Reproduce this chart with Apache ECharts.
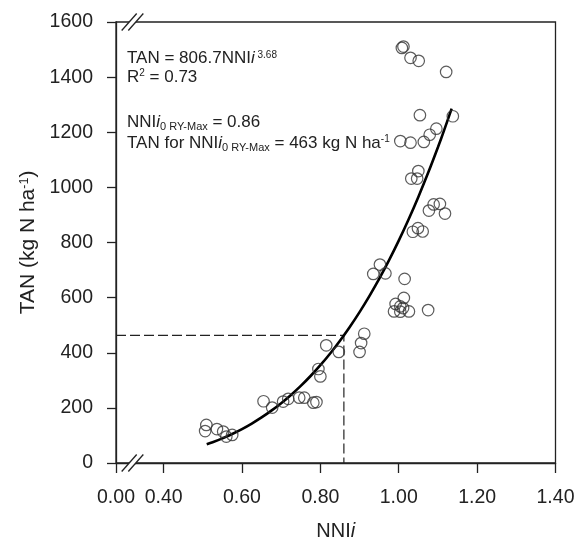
<!DOCTYPE html>
<html><head><meta charset="utf-8">
<script src="https://cdn.jsdelivr.net/npm/echarts@6/dist/echarts.min.js"></script>
<style>html,body{margin:0;padding:0;background:#fff}#c{width:577px;height:540px}</style>
</head><body><div id="c"></div>
<script>
// ---- data ----
const nniObs = [
  0.509, 0.506, 0.536, 0.552, 0.560, 0.575,
  0.655, 0.677, 0.705, 0.718, 0.746, 0.759, 0.782, 0.790, 0.795, 0.800,
  0.815, 0.847, 0.900, 0.904, 0.912,
  0.935, 0.952, 0.966, 1.015,
  1.013, 0.992, 0.988, 1.004, 1.011, 1.026, 1.004, 1.075,
  1.036, 1.049, 1.061, 1.077, 1.089, 1.105, 1.118,
  1.032, 1.047, 1.050,
  1.004, 1.030, 1.064, 1.079, 1.096, 1.054, 1.138,
  1.121, 1.051, 1.030, 1.012, 1.008
];
const tanObs = [
  138, 116, 123, 114, 96, 102,
  224, 201, 223, 233, 237, 237, 219, 221, 341, 314,
  427, 403, 403, 435, 469,
  686, 720, 688, 668,
  599, 577, 550, 568, 562, 550, 549, 555,
  839, 852, 840, 916, 938, 940, 905,
  1032, 1032, 1059,
  1168, 1162, 1165, 1191, 1213, 1262, 1258,
  1419, 1459, 1470, 1511, 1506
];
// fitted curve TAN = 806.7 NNIi^3.68, read at these NNIi values
const fitNNI = [0.51, 0.525, 0.55, 0.575, 0.60, 0.625, 0.65, 0.675, 0.70, 0.725, 0.75, 0.775, 0.80, 0.825,
                0.85, 0.875, 0.90, 0.925, 0.95, 0.975, 1.00, 1.025, 1.05, 1.075, 1.10, 1.115, 1.135];
const fitTAN = [67.7, 75.3, 89.4, 105.3, 123.1, 143.1, 165.3, 189.9, 217.1, 247.0, 279.8, 315.7, 354.9, 397.4,
                443.6, 493.5, 547.4, 605.5, 667.9, 734.9, 806.7, 883.4, 965.4, 1052.7, 1145.6, 1204.1, 1285.5];
const optimumNNI = 0.86;
const optimumTAN = 463;
const xAxisStart = 0.2785;          // position of the broken-axis "0.00" label
const xTickValues = [0.40, 0.60, 0.80, 1.00, 1.20, 1.40];
const yMin = 0, yMax = 1600, yStep = 200;

const FONT = 'Liberation Sans, Arial, sans-serif';
const INK = '#222';

const chart = echarts.init(document.getElementById('c'), null, {renderer: 'canvas'});
const xCustom = [xAxisStart].concat(xTickValues);

const option = {
  animation: false,
  backgroundColor: '#fff',
  grid: {left: 116, right: 21.5, top: 22, bottom: 77, show: true, borderColor: INK, borderWidth: 1.3,
         backgroundColor: 'transparent', outerBoundsMode: 'none', containLabel: false},
  xAxis: {
    type: 'value', min: xAxisStart, max: 1.4,
    axisLine: {show: true, onZero: false, lineStyle: {color: INK, width: 1.3}},
    axisTick: {show: true, length: 10, customValues: xCustom, lineStyle: {color: INK, width: 1.3}},
    axisLabel: {customValues: xCustom, margin: 25, fontSize: 19.5, fontFamily: FONT, color: INK,
      formatter: v => (v < 0.39 ? '0.00' : v.toFixed(2))},
    splitLine: {show: false},
    name: 'NNI{it|i}', nameLocation: 'middle', nameGap: 58,
    nameTextStyle: {fontSize: 20, fontFamily: FONT, color: INK,
      rich: {it: {fontSize: 20, fontFamily: FONT, color: INK, fontStyle: 'italic'}}}
  },
  yAxis: {
    type: 'value', min: yMin, max: yMax, interval: yStep,
    axisLine: {show: true, onZero: false, lineStyle: {color: INK, width: 1.3}},
    axisTick: {show: true, length: 9, lineStyle: {color: INK, width: 1.3}},
    axisLabel: {margin: 23, fontSize: 19.5, fontFamily: FONT, color: INK, formatter: v => String(v)},
    splitLine: {show: false},
    name: 'TAN (kg N ha{sup|-1})', nameLocation: 'middle', nameGap: 70, nameRotate: 90,
    nameTextStyle: {fontSize: 21, fontFamily: FONT, color: INK,
      rich: {sup: {fontSize: 12.5, fontFamily: FONT, color: INK, verticalAlign: 'top', lineHeight: 12}}}
  },
  series: [
    {
      type: 'line', data: [[xAxisStart, optimumTAN], [optimumNNI, optimumTAN], [optimumNNI, 0]],
      symbol: 'none', lineStyle: {color: INK, width: 1.2, type: [10, 4]}, z: 2, silent: true
    },
    {
      type: 'line', data: fitNNI.map((x, i) => [x, fitTAN[i]]),
      symbol: 'none', smooth: 0.3, lineStyle: {color: '#000', width: 2.6}, z: 3
    },
    {
      type: 'scatter', data: nniObs.map((x, i) => [x, tanObs[i]]),
      symbol: 'circle', symbolSize: 11.5,
      itemStyle: {color: 'rgba(255,255,255,0)', borderColor: '#333', borderWidth: 1.2}, z: 4
    }
  ]
};
chart.setOption(option);

// annotation + axis-break marks
const m = {fontSize: 17, fontFamily: FONT, color: INK, lineHeight: 20, verticalAlign: 'top'};
const rich = {
  m: m,
  mi: Object.assign({}, m, {fontStyle: 'italic'}),
  sup: {fontSize: 10, fontFamily: FONT, color: INK, verticalAlign: 'top'},
  sub: {fontSize: 11, fontFamily: FONT, color: INK, verticalAlign: 'top', padding: [8, 0, 0, 0]}
};
function txt(t, top) {
  return {type: 'text', left: 127, top: top, z: 50,
    style: {text: t, rich: rich, fill: INK, font: '17px ' + FONT}};
}
const p0 = chart.convertToPixel({gridIndex: 0}, [xAxisStart, yMin]);
const p1 = chart.convertToPixel({gridIndex: 0}, [xAxisStart, yMax]);
function breakMark(cx, cy) {
  const hw = 7.5, hh = 8.5, off = 3.3;
  const a1 = [cx - off - hw, cy + hh], b1 = [cx - off + hw, cy - hh];
  const a2 = [cx + off - hw, cy + hh], b2 = [cx + off + hw, cy - hh];
  return [
    {type: 'polygon', shape: {points: [a1, b1, b2, a2]}, style: {fill: '#fff'}, z: 100},
    {type: 'line', shape: {x1: a1[0], y1: a1[1], x2: b1[0], y2: b1[1]}, style: {stroke: INK, lineWidth: 1.3}, z: 101},
    {type: 'line', shape: {x1: a2[0], y1: a2[1], x2: b2[0], y2: b2[1]}, style: {stroke: INK, lineWidth: 1.3}, z: 101}
  ];
}
chart.setOption({
  graphic: [
    txt('{m|TAN = 806.7NNI}{mi|i}{sup| 3.68}', 50),
    txt('{m|R}{sup|2}{m| = 0.73}', 68.5),
    txt('{m|NNI}{mi|i}{sub|0 RY-Max}{m| = 0.86}', 113.5),
    txt('{m|TAN for NNI}{mi|i}{sub|0 RY-Max}{m| = 463 kg N ha}{sup|-1}', 134.5)
  ].concat(breakMark(p0[0] + 16.5, p0[1]), breakMark(p1[0] + 16.5, p1[1]))
});
</script>
</body></html>
